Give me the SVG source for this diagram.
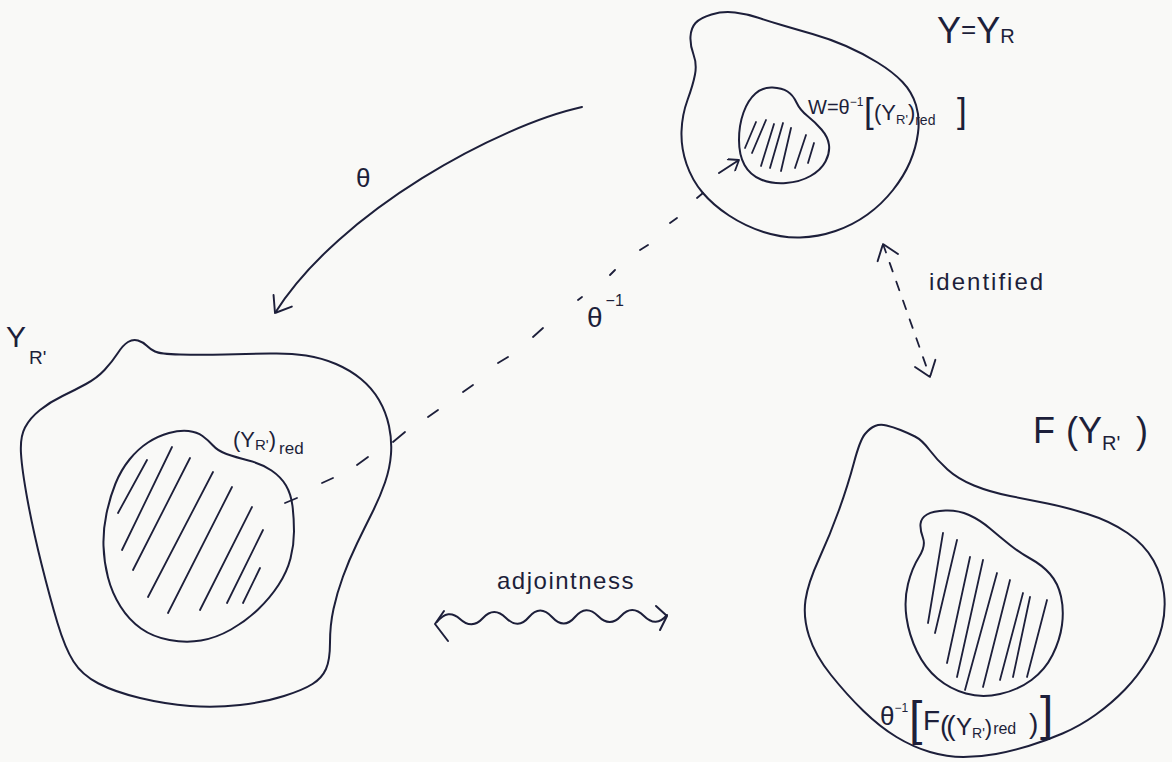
<svg xmlns="http://www.w3.org/2000/svg" width="1172" height="762" viewBox="0 0 1172 762">
  <style>
    .ink{fill:none;stroke:#1d1f3a;stroke-width:2;stroke-linecap:round;stroke-linejoin:round}
    .hatch{fill:none;stroke:#1d1f3a;stroke-width:1.8;stroke-linecap:round}
    .dash{fill:none;stroke:#1d1f3a;stroke-width:1.8;stroke-linecap:round}
    text{font-family:"Liberation Sans",Arial,sans-serif;fill:#1d1f3a}
  </style>
  <defs>
    <marker id="head" viewBox="0 0 10 10" refX="10" refY="5" markerWidth="24" markerHeight="24" markerUnits="userSpaceOnUse" orient="auto-start-reverse">
      <path d="M4,0.5 L10,5 L4,9.5" fill="none" stroke="#1d1f3a" stroke-width="0.8" stroke-linecap="round" stroke-linejoin="round"/>
    </marker>
    <marker id="head-sm" viewBox="0 0 10 10" refX="10" refY="5" markerWidth="15" markerHeight="15" markerUnits="userSpaceOnUse" orient="auto">
      <path d="M4,0.5 L10,5 L4,9.5" fill="none" stroke="#1d1f3a" stroke-width="1.2" stroke-linecap="round" stroke-linejoin="round"/>
    </marker>
  </defs>

  <!-- paper -->
  <rect width="1172" height="762" fill="#f9f9f7"/>

  <!-- Y = Y_R, with the shaded subset W -->
  <g id="node-y">
    <path class="ink" d="M695.5,23 Q700,18 711.5,14.5 Q723,11 735,12.5 Q747,14 757.5,17.5 Q768,21 781.5,25 Q795,29 812.5,34 Q830,39 846,46 Q862,53 877.5,62.5 Q893,72 902.5,82 Q912,92 916,105 Q920,118 918,133 Q916,148 910,162 Q904,176 893,190 Q882,204 867.5,214.5 Q853,225 835.5,231 Q818,237 800,237.5 Q782,238 763.5,232 Q745,226 729,215.5 Q713,205 702.5,192.5 Q692,180 686.5,164 Q681,148 681.5,131.5 Q682,115 687.5,100 Q693,85 695,74.5 Q697,64 693.5,54.5 Q690,45 690.5,36.5 Q691,28 695.5,23 Z"/>
    <path class="ink" d="M755.5,93.5 Q763,87 772.5,87.5 Q782,88 787.5,91.5 Q793,95 796.5,102.5 Q800,110 807.5,116 Q815,122 821.5,129.5 Q828,137 829,145 Q830,153 825.5,161.5 Q821,170 810.5,176 Q800,182 786,183 Q772,184 761,179.5 Q750,175 744.5,165 Q739,155 739,140 Q739,125 743.5,112.5 Q748,100 755.5,93.5 Z"/>
    <path class="hatch" d="M745,148 L756,122 M752,153 L766,120 M761,166 L774,124 M770,168 L783,123 M781,171 L791,128 M795,168 L806,135 M808,163 L814,143"/>
    <text x="937" y="43" font-size="36">Y<tspan font-size="26" dy="-5">=</tspan><tspan dy="5">Y</tspan><tspan font-size="20">R</tspan></text>
    <text x="808" y="114" font-size="20">W=θ<tspan font-size="12" dy="-8">−1</tspan><tspan x="864" y="123" font-size="35">[</tspan><tspan x="874" y="120" font-size="22">(Y</tspan><tspan font-size="13" dy="4">R'</tspan><tspan font-size="22" dy="-4">)</tspan><tspan font-size="14" dy="5">red</tspan><tspan x="957" y="123" font-size="35">]</tspan></text>
  </g>

  <!-- Y_R' with its reduced subscheme -->
  <g id="node-yr-prime">
    <path class="ink" d="M117.5,353.5 Q123,345 128,342 Q133,339 138,340.5 Q143,342 146.5,345.5 Q150,349 155,351.5 Q160,354 180,354.5 Q200,355 225,354.5 Q250,354 270,353.5 Q290,353 306,355.5 Q322,358 336,364 Q350,370 361,379 Q372,388 379,400 Q386,412 389,426 Q392,440 391,454 Q390,468 385,482.5 Q380,497 372.5,512 Q365,527 357,543.5 Q349,560 343,576.5 Q337,593 333.5,609 Q330,625 330,642.5 Q330,660 326,669 Q322,678 312.5,684 Q303,690 284,696 Q265,702 240,705 Q215,708 190,706 Q165,704 140,698 Q115,692 98.5,683.5 Q82,675 73.5,661.5 Q65,648 57.5,623 Q50,598 41.5,564 Q33,530 27.5,500 Q22,470 21,453.5 Q20,437 25,427.5 Q30,418 40,410 Q50,402 62.5,396 Q75,390 86,384 Q97,378 104.5,370 Q112,362 117.5,353.5 Z"/>
    <path class="ink" d="M169,433 Q180,430 188.5,431 Q197,432 202.5,436 Q208,440 213,445.5 Q218,451 226.5,454 Q235,457 248.5,460.5 Q262,464 271.5,470.5 Q281,477 286,485.5 Q291,494 292.5,506 Q294,518 294,531.5 Q294,545 290.5,558.5 Q287,572 278.5,585 Q270,598 258,609.5 Q246,621 231,629.5 Q216,638 201,640.5 Q186,643 169.5,640 Q153,637 141,628.5 Q129,620 120.5,606.5 Q112,593 108,577.5 Q104,562 103.5,546 Q103,530 106.5,513.5 Q110,497 115.5,483.5 Q121,470 129.5,459.5 Q138,449 148,442.5 Q158,436 169,433 Z"/>
    <path class="hatch" d="M118,513 L147,460 M122,550 L172,447 M133,570 L190,458 M148,597 L213,472 M168,613 L232,487 M200,610 L252,507 M227,603 L263,530 M243,603 L260,568"/>
    <text x="6" y="347" font-size="30">Y<tspan x="29" y="364" font-size="19">R'</tspan></text>
    <text x="233" y="447" font-size="22">(Y<tspan font-size="15" dy="3">R'</tspan><tspan dy="-3">)</tspan><tspan font-size="17" dx="3" dy="7">red</tspan></text>
  </g>

  <!-- F(Y_R') with the preimage of F((Y_R')_red) -->
  <g id="node-f">
    <path class="ink" d="M854,462.5 Q860,440 865,434 Q870,428 875,426 Q880,424 886.5,425.5 Q893,427 900.5,430 Q908,433 915,436.5 Q922,440 929.5,450 Q937,460 947.5,469.5 Q958,479 974,485.5 Q990,492 1010,496 Q1030,500 1047.5,503.5 Q1065,507 1087.5,514 Q1110,521 1127.5,533 Q1145,545 1153.5,560.5 Q1162,576 1164,593 Q1166,610 1162,626.5 Q1158,643 1148,659.5 Q1138,676 1125,689.5 Q1112,703 1096,714.5 Q1080,726 1062.5,733.5 Q1045,741 1028.5,746 Q1012,751 996,754 Q980,757 963.5,757 Q947,757 930,752 Q913,747 896.5,737 Q880,727 863.5,711 Q847,695 831,675 Q815,655 809,636 Q803,617 805.5,600 Q808,583 819,559 Q830,535 839,510 Q848,485 854,462.5 Z"/>
    <path class="ink" d="M920.5,524 Q921,518 927,514.5 Q933,511 945.5,510.5 Q958,510 969,515 Q980,520 990,528.5 Q1000,537 1010,545 Q1020,553 1031,559 Q1042,565 1050,574 Q1058,583 1061,596.5 Q1064,610 1062,625 Q1060,640 1052.5,655 Q1045,670 1031.5,680 Q1018,690 1000,694 Q982,698 966,693.5 Q950,689 937.5,678.5 Q925,668 917,651.5 Q909,635 906.5,617.5 Q904,600 908,584 Q912,568 919,557 Q926,546 923,538 Q920,530 920.5,524 Z"/>
    <path class="hatch" d="M928,623 L943,533 M935,633 L957,540 M947,663 L970,557 M957,677 L983,560 M965,690 L997,573 M983,687 L1010,580 M1000,680 L1023,593 M1013,677 L1030,597 M1027,677 L1047,600"/>
    <text x="1033" y="443" font-size="36">F<tspan x="1066">(Y</tspan><tspan font-size="20" dy="7">R'</tspan><tspan x="1136" y="443">)</tspan></text>
    <text x="880" y="725" font-size="26">θ<tspan font-size="12" dy="-13">−1</tspan><tspan x="909" y="735" font-size="48">[</tspan><tspan x="923" y="730" font-size="28">F</tspan><tspan x="940" y="735" font-size="28" letter-spacing="-3">((</tspan><tspan x="956" y="735" font-size="24">Y</tspan><tspan font-size="14" dy="3">R'</tspan><tspan font-size="22" dy="-3">)</tspan><tspan font-size="16" dx="1" y="734">red</tspan><tspan x="1029" y="733" font-size="28">)</tspan><tspan x="1040" y="730" font-size="48">]</tspan></text>
  </g>

  <!-- maps between the three pictures -->
  <g id="connectors">
    <path class="ink" d="M582,107 C500,125 340,210 275,313" marker-end="url(#head)"/>
    <text x="356" y="187" font-size="26">θ</text>

    <path class="dash" d="M285,503 L297,498 M322,483 L333,478 M357,465 L368,457 M393,442 L405,432 M428,417 L438,410 M463,392 L473,385 M498,363 L508,357 M533,337 L543,328 M578,300 L582,297 M610,275 L615,270 M640,250 L648,245 M670,223 L677,218 M697,198 L703,193"/>
    <path class="ink" d="M719,173 L739,160" marker-end="url(#head-sm)"/>
    <text x="587" y="327" font-size="28">θ<tspan font-size="16" dx="3" dy="-21">−1</tspan></text>

    <path class="dash" d="M883,244 L930,377" stroke-dasharray="9 11" marker-start="url(#head)" marker-end="url(#head)"/>
    <text x="929" y="290" font-size="24" letter-spacing="2">identified</text>

    <path class="ink" d="M437,622 Q448,608 460,619 T483,618 T506,618 T529,617 T552,617 T575,617 T598,616 T621,616 T644,616 T667,615"/>
    <path class="ink" d="M444,611 L435,624 L448,641"/>
    <path class="ink" d="M656,606 L667,616 L660,630"/>
    <text x="497" y="589" font-size="24" letter-spacing="1.5">adjointness</text>
  </g>
</svg>
